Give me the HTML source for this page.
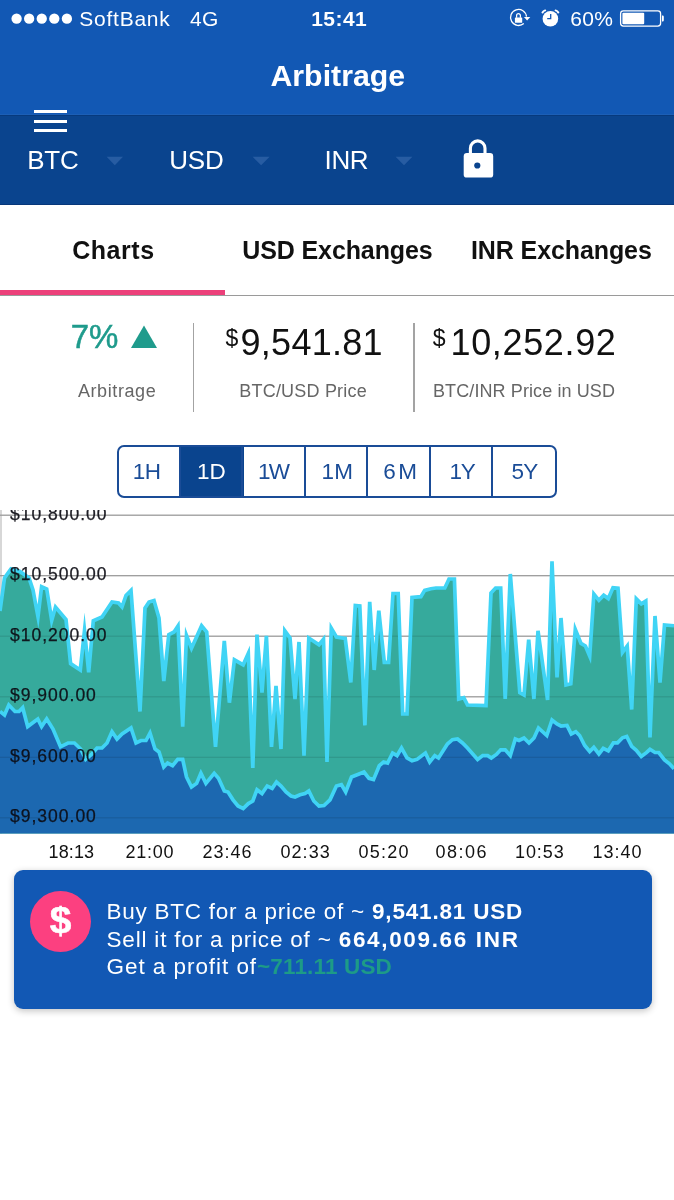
<!DOCTYPE html>
<html><head><meta charset="utf-8"><title>Arbitrage</title>
<style>
*{box-sizing:border-box;margin:0;padding:0}
html,body{width:674px;height:1200px;overflow:hidden;background:#fff}
body{font-family:"Liberation Sans",sans-serif;position:relative;color:#111}
.abs{position:absolute;white-space:nowrap}
#top{left:0;top:0;width:674px;height:115px;background:#1258b4}
#bar2{left:0;top:115px;width:674px;height:89.7px;background:#0a448e;border-bottom:0.8px solid #07377a}
.vr{width:1.5px;background:#a3a3a3;top:323px;height:89px}
#seg{left:117px;top:445px;width:439.5px;height:52.5px;border:2px solid #1a4c97;border-radius:7px;overflow:hidden;background:#fff}
#seg i{position:absolute;top:0;width:2px;height:50px;background:#1a4c97}
#card{left:14.3px;top:870px;width:637.8px;height:139.3px;background:#1258b4;border-radius:9px;box-shadow:0 2px 7px rgba(0,0,0,.24)}
</style></head><body>
<div class="abs" id="top"></div>
<div class="abs" id="bar2"></div>
<div class="abs" style="left:0;top:113.5px;width:674px;height:1.5px;background:#1c5fb6"></div>
<div class="abs" style="left:0;top:115px;width:674px;height:1px;background:#073a7e"></div>
<svg class="abs" style="left:0;top:0" width="674" height="40" viewBox="0 0 674 40">
<circle cx="16.6" cy="18.7" r="5.15" fill="#fff"/>
<circle cx="29.15" cy="18.7" r="5.15" fill="#fff"/>
<circle cx="41.75" cy="18.7" r="5.15" fill="#fff"/>
<circle cx="54.3" cy="18.7" r="5.15" fill="#fff"/>
<circle cx="66.9" cy="18.7" r="5.15" fill="#fff"/>
<path d="M526.5 16.6 A8 8 0 1 0 523.8 23.5" fill="none" stroke="#fff" stroke-width="1.3"/>
<path d="M523.9 17 L530.3 17 L527.1 20.6 Z" fill="#fff"/>
<rect x="514.9" y="17.4" width="7.3" height="5.4" rx="0.6" fill="#fff"/>
<path d="M516.6 17.8 V15.6 A1.9 1.9 0 0 1 520.4 15.6 V17.8" fill="none" stroke="#fff" stroke-width="1.25"/>
<circle cx="550.4" cy="18.8" r="7.8" fill="#fff"/>
<path d="M542.5 12.5 A4.4 4.4 0 0 1 545.2 10.4" stroke="#fff" stroke-width="2" fill="none" stroke-linecap="round"/>
<path d="M558.3 12.5 A4.4 4.4 0 0 0 555.6 10.4" stroke="#fff" stroke-width="2" fill="none" stroke-linecap="round"/>
<path d="M550.7 14 V18.7 H547.2" stroke="#1258b4" stroke-width="1.3" fill="none"/>
<rect x="620.6" y="10.9" width="40" height="15.2" rx="2.8" fill="none" stroke="#fff" stroke-width="1.3"/>
<rect x="622.4" y="12.7" width="21.8" height="11.6" rx="1" fill="#fff"/>
<path d="M662 15.6 h0.6 a1.2 1.2 0 0 1 1.2 1.2 v3.4 a1.2 1.2 0 0 1 -1.2 1.2 h-0.6 z" fill="#fff"/>
</svg>
<div class="abs" style="left:79.3px;top:7.82px;font-size:21px;line-height:21px;color:#fff;letter-spacing:0.75px;">SoftBank</div>
<div class="abs" style="left:189.9px;top:7.82px;font-size:21px;line-height:21px;color:#fff;letter-spacing:0.4px;">4G</div>
<div class="abs" style="left:311.2px;top:7.82px;font-size:21px;line-height:21px;color:#fff;font-weight:bold;letter-spacing:0.45px;">15:41</div>
<div class="abs" style="left:570.2px;top:7.92px;font-size:21px;line-height:21px;color:#fff;letter-spacing:0.3px;">60%</div>
<div class="abs" style="left:0px;top:60.85px;font-size:30.3px;line-height:30.3px;color:#fff;font-weight:bold;width:675.6px;text-align:center;">Arbitrage</div>
<div class="abs" style="left:34px;top:110.3px;width:33px;height:3px;background:#fff"></div>
<div class="abs" style="left:34px;top:119.6px;width:33px;height:3px;background:#fff"></div>
<div class="abs" style="left:34px;top:129px;width:33px;height:3px;background:#fff"></div>
<div class="abs" style="left:27.3px;top:147.49px;font-size:26px;line-height:26px;color:#fff;letter-spacing:-0.3px;">BTC</div>
<div class="abs" style="left:169.3px;top:147.49px;font-size:26px;line-height:26px;color:#fff;letter-spacing:-0.2px;">USD</div>
<div class="abs" style="left:324.6px;top:147.49px;font-size:26px;line-height:26px;color:#fff;letter-spacing:-0.4px;">INR</div>
<svg class="abs" style="left:0;top:130px" width="674" height="60" viewBox="0 130 674 60">
<path d="M106.6 156.8 H123 L114.8 165.3 Z" fill="#275ca2"/>
<path d="M252.6 156.8 H269.6 L261.1 165.3 Z" fill="#275ca2"/>
<path d="M395.6 156.8 H412.4 L404 165.3 Z" fill="#275ca2"/>
<rect x="463.7" y="153" width="29.5" height="24.6" rx="3.2" fill="#fff"/>
<path d="M470.4 154 V148.2 A7.3 7.3 0 0 1 485 148.2 V154" fill="none" stroke="#fff" stroke-width="3.1"/>
<circle cx="477.3" cy="165.5" r="3.1" fill="#0a448e"/>
</svg>
<div class="abs" style="left:72.2px;top:237.64px;font-size:25px;line-height:25px;color:#111;font-weight:bold;letter-spacing:0.55px;">Charts</div>
<div class="abs" style="left:242.2px;top:237.64px;font-size:25px;line-height:25px;color:#111;font-weight:bold;letter-spacing:-0.1px;">USD Exchanges</div>
<div class="abs" style="left:471px;top:237.64px;font-size:25px;line-height:25px;color:#111;font-weight:bold;letter-spacing:-0.1px;">INR Exchanges</div>
<div class="abs" style="left:0;top:294.9px;width:674px;height:0.9px;background:#9a9a9a"></div>
<div class="abs" style="left:0;top:289.5px;width:224.6px;height:5.8px;background:#ec407a"></div>
<div class="abs" style="left:70.7px;top:320.07px;font-size:33px;line-height:33px;color:#1f9b8c;-webkit-text-stroke:0.5px #1f9b8c;">7%</div>
<svg class="abs" style="left:128px;top:320px" width="34" height="32" viewBox="128 320 34 32"><path d="M144 325.4 L157 348 H131 Z" fill="#1f9b8c"/></svg>
<div class="abs" style="left:225.6px;top:326.73px;font-size:23px;line-height:23px;color:#111;">$</div>
<div class="abs" style="left:240.6px;top:324.73px;font-size:36px;line-height:36px;color:#111;letter-spacing:0.25px;">9,541.81</div>
<div class="abs" style="left:432.8px;top:326.73px;font-size:23px;line-height:23px;color:#111;">$</div>
<div class="abs" style="left:450.5px;top:324.73px;font-size:36px;line-height:36px;color:#111;letter-spacing:0.65px;">10,252.92</div>
<div class="abs" style="left:77.9px;top:382.06px;font-size:18px;line-height:18px;color:#666;letter-spacing:0.6px;">Arbitrage</div>
<div class="abs" style="left:239.3px;top:382.06px;font-size:18px;line-height:18px;color:#666;letter-spacing:0.2px;">BTC/USD Price</div>
<div class="abs" style="left:433px;top:382.06px;font-size:18px;line-height:18px;color:#666;letter-spacing:0.1px;">BTC/INR Price in USD</div>
<div class="abs vr" style="left:192.7px"></div>
<div class="abs vr" style="left:413.3px"></div>
<div class="abs" id="seg"><div class="abs" style="left:60.5px;top:0;width:64.5px;height:50px;background:#0a448e"></div><i style="left:59.5px"></i><i style="left:122px"></i><i style="left:184.5px"></i><i style="left:247px"></i><i style="left:309.5px"></i><i style="left:372px"></i></div>
<div class="abs" style="left:106.75px;top:461.05px;font-size:22.5px;line-height:22.5px;color:#1a4c97;letter-spacing:-0.5px;width:80px;text-align:center;">1H</div>
<div class="abs" style="left:171.3px;top:461.05px;font-size:22.5px;line-height:22.5px;color:#fff;width:80px;text-align:center;">1D</div>
<div class="abs" style="left:233.2px;top:461.05px;font-size:22.5px;line-height:22.5px;color:#1a4c97;letter-spacing:-1.6px;width:80px;text-align:center;">1W</div>
<div class="abs" style="left:297.35px;top:461.05px;font-size:22.5px;line-height:22.5px;color:#1a4c97;letter-spacing:0.3px;width:80px;text-align:center;">1M</div>
<div class="abs" style="left:361.4px;top:461.05px;font-size:22.5px;line-height:22.5px;color:#1a4c97;letter-spacing:2.4px;width:80px;text-align:center;">6M</div>
<div class="abs" style="left:421.9px;top:461.05px;font-size:22.5px;line-height:22.5px;color:#1a4c97;letter-spacing:-1.4px;width:80px;text-align:center;">1Y</div>
<div class="abs" style="left:484.55px;top:461.05px;font-size:22.5px;line-height:22.5px;color:#1a4c97;letter-spacing:-0.8px;width:80px;text-align:center;">5Y</div>
<svg class="abs" style="left:0;top:510px" width="674" height="324" viewBox="0 510 674 324">
<rect x="0" y="514.6" width="674" height="1.2" fill="#a9a9a9"/>
<rect x="0" y="575.1" width="674" height="1.2" fill="#a9a9a9"/>
<rect x="0" y="635.6" width="674" height="1.2" fill="#a9a9a9"/>
<rect x="0" y="696.2" width="674" height="1.2" fill="#a9a9a9"/>
<rect x="0" y="756.7" width="674" height="1.2" fill="#a9a9a9"/>
<rect x="0" y="817.2" width="674" height="1.2" fill="#a9a9a9"/>
<rect x="0.5" y="510" width="1" height="323.5" fill="#b0b0b0"/>
<polygon fill="#36aa9c" points="0,833.5 0,611 4.5,578 11,569 20,571.5 29,578 33,590 38,616.8 41.6,586.7 46.7,589 51.7,620.4 55.5,607 66,619.5 70.6,663.6 80.3,670 84.5,630.5 88.7,672.4 93.3,620.7 102,617 112,602 118.5,603 122,607 126,595.5 131,590.4 140,711.5 145,608 149,602 154,600.5 159,618 163.8,681 168.8,634.6 174,632 178,626 182.7,726.6 186.5,635.5 191.5,648.3 201.6,625.8 206.7,632 215.5,746.8 224.3,641 229.4,702.7 234.4,659.8 243.2,664.8 248.3,653.5 252.8,768 257,634.6 262,692.6 266.4,635.8 271.5,746.8 276,686 281,749 284.8,630.8 290,638 295,699 299,642 304,755.6 308.8,638 319,644.7 323.5,639.3 327,762 331.3,628.2 336.4,637 345.2,638.4 350.8,682.5 355.3,605.6 359.8,606 364.9,725.4 369.7,601.8 374.2,670 378.8,610.6 384.3,662.3 388.6,662.3 393,593.5 398.2,593.5 402.7,714 407,714 412,597.5 420.9,596.7 424.7,590.4 431,588.7 436,588 444.8,588 449,579 454.4,579 458.7,699 463.8,697.6 467.5,705 486,705.5 491,593 495.6,588 500.7,588 505.2,699 510.3,574 519.8,692.6 524,695 528.7,639.6 533.9,699 538,630.8 547.6,700 552,561.4 557,677.5 561,618 566,685 570.8,683.8 575.3,629.4 581,643.4 585.4,646 589.7,656.1 593.9,594.1 598.9,600.3 603.7,595.2 608.3,598.6 613,587.8 618,588.2 622.5,652.3 627.2,646 631.7,709.5 636.3,598.9 641.3,603.9 645.8,601.1 650,737.5 655,616 660,682.5 664.5,625 674,625.75 674,833.5"/>
<polygon fill="#1c68b0" points="0,833.5 0,711.5 4.5,715 8.8,705 15,711.5 19,711.5 22.7,707.7 27.7,726.6 37.8,719 41.6,726.6 46.7,719 53,729 60.5,746.8 68,743 74.4,743 80.7,749 85.7,759.4 92,754 97,748 102,748 107,743 112,731.7 117,739 122,734 131,728 136,743 141,740.5 146,740.5 150,733 155,749 159,752 163.8,767 167.6,763 172.6,765.7 177.7,759.4 182.7,759.4 186.5,777 191.5,787 196.6,783.4 200.9,773.3 205.9,783.4 214.2,773.3 218.5,778.3 224.3,791 228,792 233,799.8 238,806 243.2,808.6 248.3,803.6 252.8,801 257,789.7 262,793.5 267.2,786 272.2,788.4 276.5,782 281,786 286,792 291,796 295,797 300,794.7 305,793.5 308.8,791 313.8,801 319,806 324,805.5 330,799.8 336.4,786 341.4,784.6 345.7,792 351.5,777 357.8,774.5 364,772 369,778.3 373.5,779.6 379.3,765.7 383.6,762 387.6,763 392.6,753 397,755.6 401.5,748 407,758 412,760.7 417,759.4 425.4,753 429.7,762 434.8,755.6 438.5,758 447.4,744 452.4,739.7 457.5,739 462.5,743 467.5,748 477.6,759.4 482.7,755.6 487.7,755.6 491.3,758 496.4,754.4 500.7,749.8 505.2,749.8 510.3,755.6 515.3,739 519,740.5 524,738 529,743 534,738 538.5,728 546.8,735.5 552,720 557,724 561,726 567,725.4 571.3,734 575.8,731.7 579.6,735.5 584.7,745.5 589.7,751.5 593.8,747.4 598.9,754 603.3,748.4 608.3,750.8 613.4,742.8 617.5,742.8 622.5,737.8 626.7,736.5 631.7,746.4 636.3,750.3 641.3,756.5 646.4,752.7 650,749.3 655,752.5 658.75,752.5 664.5,760 669.5,763.75 674,768.75 674,833.5"/>
<rect x="0" y="514.6" width="674" height="1.2" fill="#000" fill-opacity="0.11"/>
<rect x="0" y="575.1" width="674" height="1.2" fill="#000" fill-opacity="0.11"/>
<rect x="0" y="635.6" width="674" height="1.2" fill="#000" fill-opacity="0.11"/>
<rect x="0" y="696.2" width="674" height="1.2" fill="#000" fill-opacity="0.11"/>
<rect x="0" y="756.7" width="674" height="1.2" fill="#000" fill-opacity="0.11"/>
<rect x="0" y="817.2" width="674" height="1.2" fill="#000" fill-opacity="0.11"/>
<polyline fill="none" stroke="#40d4f5" stroke-width="3.7" stroke-linejoin="miter" stroke-miterlimit="10" points="0,611 4.5,578 11,569 20,571.5 29,578 33,590 38,616.8 41.6,586.7 46.7,589 51.7,620.4 55.5,607 66,619.5 70.6,663.6 80.3,670 84.5,630.5 88.7,672.4 93.3,620.7 102,617 112,602 118.5,603 122,607 126,595.5 131,590.4 140,711.5 145,608 149,602 154,600.5 159,618 163.8,681 168.8,634.6 174,632 178,626 182.7,726.6 186.5,635.5 191.5,648.3 201.6,625.8 206.7,632 215.5,746.8 224.3,641 229.4,702.7 234.4,659.8 243.2,664.8 248.3,653.5 252.8,768 257,634.6 262,692.6 266.4,635.8 271.5,746.8 276,686 281,749 284.8,630.8 290,638 295,699 299,642 304,755.6 308.8,638 319,644.7 323.5,639.3 327,762 331.3,628.2 336.4,637 345.2,638.4 350.8,682.5 355.3,605.6 359.8,606 364.9,725.4 369.7,601.8 374.2,670 378.8,610.6 384.3,662.3 388.6,662.3 393,593.5 398.2,593.5 402.7,714 407,714 412,597.5 420.9,596.7 424.7,590.4 431,588.7 436,588 444.8,588 449,579 454.4,579 458.7,699 463.8,697.6 467.5,705 486,705.5 491,593 495.6,588 500.7,588 505.2,699 510.3,574 519.8,692.6 524,695 528.7,639.6 533.9,699 538,630.8 547.6,700 552,561.4 557,677.5 561,618 566,685 570.8,683.8 575.3,629.4 581,643.4 585.4,646 589.7,656.1 593.9,594.1 598.9,600.3 603.7,595.2 608.3,598.6 613,587.8 618,588.2 622.5,652.3 627.2,646 631.7,709.5 636.3,598.9 641.3,603.9 645.8,601.1 650,737.5 655,616 660,682.5 664.5,625 674,625.75"/>
<polyline fill="none" stroke="#40d4f5" stroke-width="3.7" stroke-linejoin="miter" stroke-miterlimit="10" points="0,711.5 4.5,715 8.8,705 15,711.5 19,711.5 22.7,707.7 27.7,726.6 37.8,719 41.6,726.6 46.7,719 53,729 60.5,746.8 68,743 74.4,743 80.7,749 85.7,759.4 92,754 97,748 102,748 107,743 112,731.7 117,739 122,734 131,728 136,743 141,740.5 146,740.5 150,733 155,749 159,752 163.8,767 167.6,763 172.6,765.7 177.7,759.4 182.7,759.4 186.5,777 191.5,787 196.6,783.4 200.9,773.3 205.9,783.4 214.2,773.3 218.5,778.3 224.3,791 228,792 233,799.8 238,806 243.2,808.6 248.3,803.6 252.8,801 257,789.7 262,793.5 267.2,786 272.2,788.4 276.5,782 281,786 286,792 291,796 295,797 300,794.7 305,793.5 308.8,791 313.8,801 319,806 324,805.5 330,799.8 336.4,786 341.4,784.6 345.7,792 351.5,777 357.8,774.5 364,772 369,778.3 373.5,779.6 379.3,765.7 383.6,762 387.6,763 392.6,753 397,755.6 401.5,748 407,758 412,760.7 417,759.4 425.4,753 429.7,762 434.8,755.6 438.5,758 447.4,744 452.4,739.7 457.5,739 462.5,743 467.5,748 477.6,759.4 482.7,755.6 487.7,755.6 491.3,758 496.4,754.4 500.7,749.8 505.2,749.8 510.3,755.6 515.3,739 519,740.5 524,738 529,743 534,738 538.5,728 546.8,735.5 552,720 557,724 561,726 567,725.4 571.3,734 575.8,731.7 579.6,735.5 584.7,745.5 589.7,751.5 593.8,747.4 598.9,754 603.3,748.4 608.3,750.8 613.4,742.8 617.5,742.8 622.5,737.8 626.7,736.5 631.7,746.4 636.3,750.3 641.3,756.5 646.4,752.7 650,749.3 655,752.5 658.75,752.5 664.5,760 669.5,763.75 674,768.75"/>
<text x="10" y="519.8" font-family="Liberation Sans, sans-serif" font-size="17.5" letter-spacing="1" fill="#0c0c14" fill-opacity="0.92" stroke="#0c0c14" stroke-opacity="0.9" stroke-width="0.25">$10,800.00</text>
<text x="10" y="580.3" font-family="Liberation Sans, sans-serif" font-size="17.5" letter-spacing="1" fill="#0c0c14" fill-opacity="0.92" stroke="#0c0c14" stroke-opacity="0.9" stroke-width="0.25">$10,500.00</text>
<text x="10" y="640.8" font-family="Liberation Sans, sans-serif" font-size="17.5" letter-spacing="1" fill="#0c0c14" fill-opacity="0.92" stroke="#0c0c14" stroke-opacity="0.9" stroke-width="0.25">$10,200.00</text>
<text x="10" y="701.4" font-family="Liberation Sans, sans-serif" font-size="17.5" letter-spacing="1" fill="#0c0c14" fill-opacity="0.92" stroke="#0c0c14" stroke-opacity="0.9" stroke-width="0.25">$9,900.00</text>
<text x="10" y="761.9" font-family="Liberation Sans, sans-serif" font-size="17.5" letter-spacing="1" fill="#0c0c14" fill-opacity="0.92" stroke="#0c0c14" stroke-opacity="0.9" stroke-width="0.25">$9,600.00</text>
<text x="10" y="822.4" font-family="Liberation Sans, sans-serif" font-size="17.5" letter-spacing="1" fill="#0c0c14" fill-opacity="0.92" stroke="#0c0c14" stroke-opacity="0.9" stroke-width="0.25">$9,300.00</text>
</svg>
<div class="abs" style="left:48.6px;top:843.26px;font-size:18px;line-height:18px;color:#111;letter-spacing:0.1px;">18:13</div>
<div class="abs" style="left:125.4px;top:843.26px;font-size:18px;line-height:18px;color:#111;letter-spacing:0.75px;">21:00</div>
<div class="abs" style="left:202.4px;top:843.26px;font-size:18px;line-height:18px;color:#111;letter-spacing:1.05px;">23:46</div>
<div class="abs" style="left:280.4px;top:843.26px;font-size:18px;line-height:18px;color:#111;letter-spacing:1.1px;">02:33</div>
<div class="abs" style="left:358.4px;top:843.26px;font-size:18px;line-height:18px;color:#111;letter-spacing:1.25px;">05:20</div>
<div class="abs" style="left:435.5px;top:843.26px;font-size:18px;line-height:18px;color:#111;letter-spacing:1.5px;">08:06</div>
<div class="abs" style="left:515px;top:843.26px;font-size:18px;line-height:18px;color:#111;letter-spacing:0.9px;">10:53</div>
<div class="abs" style="left:592.5px;top:843.26px;font-size:18px;line-height:18px;color:#111;letter-spacing:1px;">13:40</div>
<div class="abs" id="card"></div>
<div class="abs" style="left:29.8px;top:890.5px;width:61.2px;height:61px;border-radius:50%;background:#fc4080"></div>
<div class="abs" style="left:29.5px;top:902.53px;font-size:36px;line-height:36px;color:#fff;font-weight:bold;width:61.4px;text-align:center;transform:scaleX(1.08);-webkit-text-stroke:0.5px #fff;">$</div>
<div class="abs" style="left:106.5px;top:901.15px;font-size:22.5px;line-height:22.5px;color:#fff;letter-spacing:0.74px;">Buy BTC for a price of ~ <b style="letter-spacing:0.82px">9,541.81 USD</b></div>
<div class="abs" style="left:106.5px;top:928.95px;font-size:22.5px;line-height:22.5px;color:#fff;letter-spacing:0.81px;">Sell it for a price of ~ <b style="letter-spacing:1.66px">664,009.66 INR</b></div>
<div class="abs" style="left:106.5px;top:956.35px;font-size:22.5px;line-height:22.5px;color:#fff;letter-spacing:0.95px;">Get a profit of<b style="letter-spacing:0.15px;color:#1d9b87">~711.11 USD</b></div>
</body></html>
